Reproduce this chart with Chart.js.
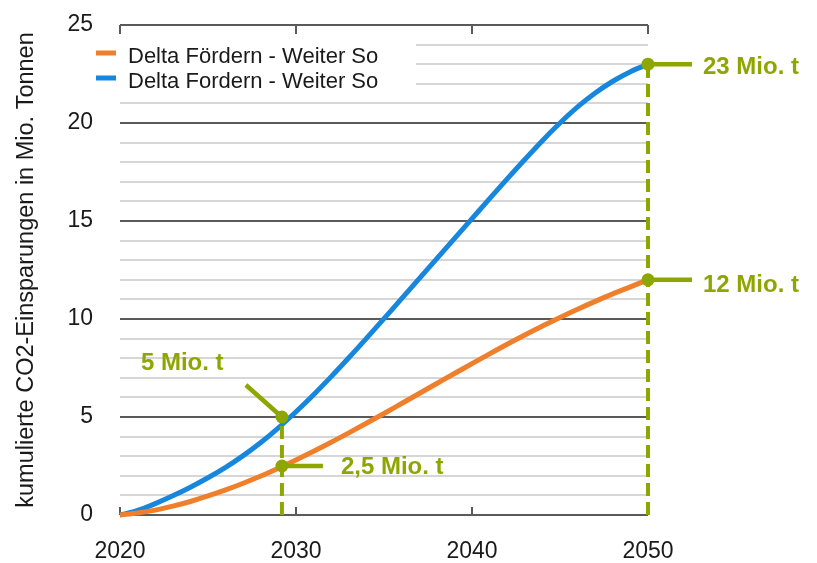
<!DOCTYPE html>
<html>
<head>
<meta charset="utf-8">
<script src="https://cdn.jsdelivr.net/npm/chart.js@4/dist/chart.umd.min.js"></script>
<style>
  html, body { margin: 0; padding: 0; background: #ffffff; }
  #wrap { width: 817px; height: 563px; }
  canvas { display: block; }
</style>
</head>
<body>
<div id="wrap"><canvas id="chart" width="817" height="563"></canvas></div>
<script>
// Years on the horizontal axis
const years = [2020, 2021, 2022, 2023, 2024, 2025, 2026, 2027, 2028, 2029,
               2030, 2031, 2032, 2033, 2034, 2035, 2036, 2037, 2038, 2039,
               2040, 2041, 2042, 2043, 2044, 2045, 2046, 2047, 2048, 2049, 2050];

// Cumulative CO2 savings in million tonnes
const foerdernSavings = [0, 0.10, 0.25, 0.45, 0.69, 0.97, 1.28, 1.62, 1.99, 2.39,
                         2.81, 3.25, 3.71, 4.19, 4.68, 5.18, 5.69, 6.20, 6.71, 7.22,
                         7.72, 8.22, 8.71, 9.18, 9.64, 10.08, 10.50, 10.90, 11.28, 11.64, 12.0];
const fordernSavings = [0, 0.23, 0.58, 0.98, 1.42, 1.90, 2.43, 3.03, 3.70, 4.45,
                        5.27, 6.14, 7.06, 8.02, 9.01, 10.02, 11.04, 12.06, 13.08, 14.10,
                        15.12, 16.14, 17.15, 18.14, 19.10, 20.00, 20.82, 21.53, 22.13, 22.62, 23.0];

const seriesLabels = ['Delta Fördern - Weiter So', 'Delta Fordern - Weiter So'];

// Axis ticks
const xTickValues = [2020, 2030, 2040, 2050];
const yLabelTicks = [0, 5, 10, 15, 20, 25];

// Highlighted values
const calloutYears  = [2050, 2050, 2029.2, 2029.2];
const calloutValues = [23, 12, 5, 2.5];
const calloutLabels = ['23 Mio. t', '12 Mio. t', '5 Mio. t', '2,5 Mio. t'];

// ---- styling ----
const ORANGE = '#F07F2B';
const BLUE = '#1787DE';
const GREEN = '#8EA600';
const AXIS_DARK = '#5a5a5a';
const GRID_LIGHT = '#d6d6d6';
const TEXT = '#1a1a1a';
const FONT = '"Liberation Sans", Arial, Helvetica, sans-serif';

// leader end / text anchor offsets (px) relative to each callout dot
const calloutStyle = [
  { lead: [44, 0],    text: [55, 10] },
  { lead: [44, 0],    text: [55, 12] },
  { lead: [-36, -32], text: [-141, -47] },
  { lead: [41, 0],    text: [59, 8] }
];

const legendStyle = {
  box: [88, 34, 328, 60],
  sampleX: 96, sampleW: 20, sampleWidth: 5,
  textX: 128,
  rowY: [53, 78],
  baselineShift: 10,
  font: '22px ' + FONT
};

const toPoints = (xs, ys) => xs.map((x, i) => ({ x: x, y: ys[i] }));

// dashed drop lines: one per highlighted year, from 0 up to the highest value at that year
const dropYears = [...new Set(calloutYears)];
const dropLines = dropYears.map(yr => {
  const top = Math.max(...calloutValues.filter((v, i) => calloutYears[i] === yr));
  return { label: 'drop', data: [{ x: yr, y: 0 }, { x: yr, y: top }],
    borderColor: GREEN, borderWidth: 4, borderDash: [13, 6], pointRadius: 0,
    fill: false, clip: false, order: 1 };
});

// frame ticks on the top and bottom axis lines
const frameTicks = {
  id: 'frameTicks',
  beforeDatasetsDraw(chart) {
    const { ctx, chartArea, scales: { x } } = chart;
    ctx.save();
    ctx.strokeStyle = AXIS_DARK;
    ctx.lineWidth = 2;
    xTickValues.forEach(v => {
      const px = Math.round(x.getPixelForValue(v));
      ctx.beginPath();
      ctx.moveTo(px, chartArea.top);
      ctx.lineTo(px, chartArea.top + 9);
      ctx.moveTo(px, chartArea.bottom);
      ctx.lineTo(px, chartArea.bottom - 8);
      ctx.stroke();
    });
    ctx.restore();
  }
};

// legend drawn inside the plot over a white box
const insideLegend = {
  id: 'insideLegend',
  beforeDatasetsDraw(chart) {
    const { ctx } = chart;
    const s = legendStyle;
    ctx.save();
    ctx.fillStyle = '#ffffff';
    ctx.fillRect(s.box[0], s.box[1], s.box[2], s.box[3]);
    ctx.font = s.font;
    ctx.textAlign = 'left';
    ctx.textBaseline = 'alphabetic';
    seriesLabels.forEach((lbl, i) => {
      const ds = chart.data.datasets[i];
      const y = s.rowY[i];
      ctx.strokeStyle = ds.borderColor;
      ctx.lineWidth = s.sampleWidth;
      ctx.beginPath();
      ctx.moveTo(s.sampleX, y);
      ctx.lineTo(s.sampleX + s.sampleW, y);
      ctx.stroke();
      ctx.fillStyle = TEXT;
      ctx.fillText(lbl, s.textX, y + s.baselineShift);
    });
    ctx.restore();
  }
};

// leader lines and value labels for the highlighted points
const callouts = {
  id: 'callouts',
  afterDatasetsDraw(chart) {
    const { ctx, scales: { x, y } } = chart;
    ctx.save();
    ctx.strokeStyle = GREEN;
    ctx.fillStyle = GREEN;
    ctx.lineWidth = 4.5;
    ctx.font = 'bold 24px ' + FONT;
    ctx.textAlign = 'left';
    ctx.textBaseline = 'alphabetic';
    calloutLabels.forEach((txt, i) => {
      const px = x.getPixelForValue(calloutYears[i]);
      const py = y.getPixelForValue(calloutValues[i]);
      const st = calloutStyle[i];
      ctx.beginPath();
      ctx.moveTo(px, py);
      ctx.lineTo(px + st.lead[0], py + st.lead[1]);
      ctx.stroke();
      ctx.fillText(txt, px + st.text[0], py + st.text[1]);
    });
    ctx.restore();
  }
};

new Chart(document.getElementById('chart'), {
  type: 'line',
  data: {
    datasets: [
      { label: seriesLabels[0], data: toPoints(years, foerdernSavings),
        borderColor: ORANGE, borderWidth: 5, pointRadius: 0, fill: false,
        cubicInterpolationMode: 'monotone', clip: false, order: 2 },
      { label: seriesLabels[1], data: toPoints(years, fordernSavings),
        borderColor: BLUE, borderWidth: 5, pointRadius: 0, fill: false,
        cubicInterpolationMode: 'monotone', clip: false, order: 2 },
      ...dropLines,
      { label: 'marks', data: toPoints(calloutYears, calloutValues),
        showLine: false, pointRadius: 6.5, pointHoverRadius: 6.5,
        pointBackgroundColor: GREEN, pointBorderWidth: 0, borderColor: GREEN,
        clip: false, order: 0 }
    ]
  },
  options: {
    responsive: false,
    animation: false,
    devicePixelRatio: 1,
    layout: { padding: { top: 25, right: 169, bottom: 0, left: 0 } },
    plugins: {
      legend: { display: false },
      tooltip: { enabled: false }
    },
    scales: {
      x: {
        type: 'linear',
        min: 2020, max: 2050,
        afterFit: s => { s.height = 48; s.paddingLeft = 0; s.paddingRight = 0; },
        grid: { display: false, drawTicks: false },
        border: { display: false },
        ticks: {
          stepSize: 10, autoSkip: false, maxRotation: 0, padding: 23,
          color: TEXT, font: { family: FONT, size: 23 },
          callback: v => String(v)
        }
      },
      y: {
        min: 0, max: 25,
        afterFit: s => { s.width = 120; s.paddingTop = 0; s.paddingBottom = 0; },
        grid: {
          drawTicks: false,
          lineWidth: 2,
          color: c => (yLabelTicks.includes(c.tick.value) ? AXIS_DARK : GRID_LIGHT)
        },
        border: { display: false },
        ticks: {
          stepSize: 1, autoSkip: false, padding: 27,
          color: TEXT, font: { family: FONT, size: 23 },
          callback: v => (yLabelTicks.includes(v) ? String(v) : '')
        },
        title: {
          display: true,
          text: 'kumulierte CO2-Einsparungen in Mio. Tonnen',
          color: TEXT,
          font: { family: FONT, size: 23.5 },
          padding: { top: 12, bottom: 0 }
        }
      }
    }
  },
  plugins: [frameTicks, insideLegend, callouts]
});
</script>
</body>
</html>
